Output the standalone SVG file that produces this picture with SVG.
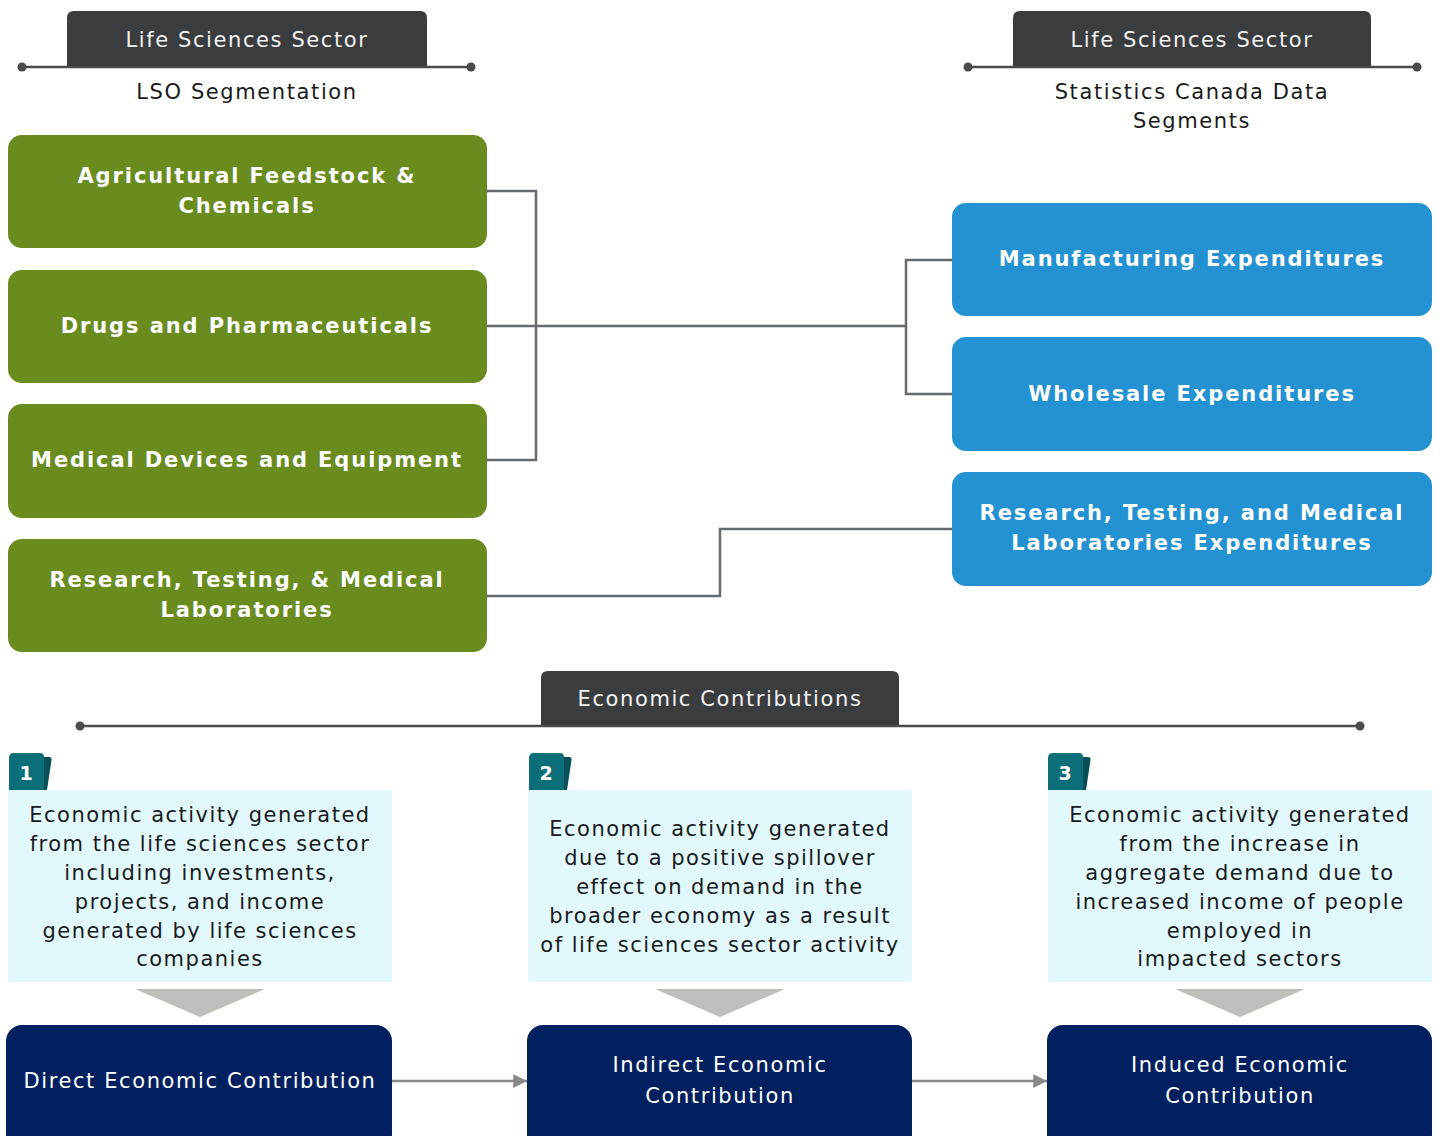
<svg xmlns="http://www.w3.org/2000/svg" width="1440" height="1136" viewBox="0 0 1440 1136">
<defs>
<style>
.t{font-family:"DejaVu Sans","Verdana",sans-serif;text-anchor:middle;font-size:21px;letter-spacing:1.6px}
.tab{fill:#3b3c3e}
.tabtxt{fill:#f2f2f2}
.sub{fill:#1a1a1a}
.hline{stroke:#4a4a4a;stroke-width:2.5;fill:none}
.dot{fill:#4a4a4a}
.green{fill:#6a8c1f}
.blue{fill:#2492d2}
.bold{fill:#fff;font-weight:bold;letter-spacing:1.9px}
.light{fill:#e1f8fd}
.desc{fill:#1a1a1a;letter-spacing:1.5px}
.navy{fill:#002060}
.navytxt{fill:#fff}
.conn{stroke:#666a6e;stroke-width:2.5;fill:none}
.arrow{stroke:#888;stroke-width:2.5;fill:none}
.chev{fill:#bfbfbb}
.badge{fill:#0b6e78}
.badgeback{fill:#074f57}
.num{fill:#fff;font-size:19px;font-weight:bold;letter-spacing:0}
</style>
<marker id="ah" viewBox="0 0 10 10" refX="10" refY="5" markerWidth="5.5" markerHeight="5.5" orient="auto" markerUnits="strokeWidth">
<path d="M0,0 L10,5 L0,10 z" fill="#888"/>
</marker>
</defs>

<g id="header-left">
<path class="tab" d="M67,67 V18 Q67,11 74,11 H420 Q427,11 427,18 V67 z"/>
<line class="hline" x1="22" y1="67" x2="471" y2="67"/>
<circle class="dot" cx="22" cy="67" r="4.5"/>
<circle class="dot" cx="471" cy="67" r="4.5"/>
<text class="t tabtxt" x="247" y="47">Life Sciences Sector</text>
<text class="t sub" x="247" y="99">LSO Segmentation</text>
</g>

<g id="header-right">
<path class="tab" d="M1013,67 V18 Q1013,11 1020,11 H1364 Q1371,11 1371,18 V67 z"/>
<line class="hline" x1="968" y1="67" x2="1417" y2="67"/>
<circle class="dot" cx="968" cy="67" r="4.5"/>
<circle class="dot" cx="1417" cy="67" r="4.5"/>
<text class="t tabtxt" x="1192" y="47">Life Sciences Sector</text>
<text class="t sub" x="1192" y="99">Statistics Canada Data</text>
<text class="t sub" x="1192" y="128">Segments</text>
</g>

<g id="connectors">
<polyline class="conn" points="487,191 536,191 536,460 487,460"/>
<line class="conn" x1="487" y1="326" x2="906" y2="326"/>
<polyline class="conn" points="952,260 906,260 906,394 952,394"/>
<polyline class="conn" points="487,596 720,596 720,529 952,529"/>
<line class="arrow" x1="392" y1="1081" x2="527" y2="1081" marker-end="url(#ah)"/>
<line class="arrow" x1="912" y1="1081" x2="1047" y2="1081" marker-end="url(#ah)"/>
</g>

<g id="node-agri">
<rect class="green" x="8" y="135" width="479" height="113" rx="14"/>
<text class="t bold" x="247" y="183">Agricultural Feedstock &amp;</text>
<text class="t bold" x="247" y="213">Chemicals</text>
</g>
<g id="node-drugs">
<rect class="green" x="8" y="270" width="479" height="113" rx="14"/>
<text class="t bold" x="247" y="333">Drugs and Pharmaceuticals</text>
</g>
<g id="node-devices">
<rect class="green" x="8" y="404" width="479" height="114" rx="14"/>
<text class="t bold" x="247" y="467">Medical Devices and Equipment</text>
</g>
<g id="node-research">
<rect class="green" x="8" y="539" width="479" height="113" rx="14"/>
<text class="t bold" x="247" y="587">Research, Testing, &amp; Medical</text>
<text class="t bold" x="247" y="617">Laboratories</text>
</g>

<g id="node-manufacturing">
<rect class="blue" x="952" y="203" width="480" height="113" rx="14"/>
<text class="t bold" x="1192" y="266">Manufacturing Expenditures</text>
</g>
<g id="node-wholesale">
<rect class="blue" x="952" y="337" width="480" height="114" rx="14"/>
<text class="t bold" x="1192" y="401">Wholesale Expenditures</text>
</g>
<g id="node-rtml">
<rect class="blue" x="952" y="472" width="480" height="114" rx="14"/>
<text class="t bold" x="1192" y="520">Research, Testing, and Medical</text>
<text class="t bold" x="1192" y="550">Laboratories Expenditures</text>
</g>

<g id="header-econ">
<path class="tab" d="M541,726 V678 Q541,671 548,671 H892 Q899,671 899,678 V726 z"/>
<line class="hline" x1="80" y1="726" x2="1360" y2="726"/>
<circle class="dot" cx="80" cy="726" r="4.5"/>
<circle class="dot" cx="1360" cy="726" r="4.5"/>
<text class="t tabtxt" x="720" y="706">Economic Contributions</text>
</g>

<g id="desc-1">
<path class="badgeback" d="M15,757 H49 Q52,757 51.5,760 L47,790 H15 z"/>
<path class="badge" d="M9,790 V758 Q9,753 14,753 H40 Q44,753 44,757 V790 z"/>
<text class="t num" x="26" y="780">1</text>
<rect class="light" x="8" y="790" width="384" height="192"/>
<text class="t desc" x="200" y="822">Economic activity generated</text>
<text class="t desc" x="200" y="851">from the life sciences sector</text>
<text class="t desc" x="200" y="880">including investments,</text>
<text class="t desc" x="200" y="909">projects, and income</text>
<text class="t desc" x="200" y="938">generated by life sciences</text>
<text class="t desc" x="200" y="966">companies</text>
<polygon class="chev" points="135,989 265,989 200,1017"/>
</g>
<g id="desc-2">
<path class="badgeback" d="M535,757 H569 Q572,757 571.5,760 L567,790 H535 z"/>
<path class="badge" d="M529,790 V758 Q529,753 534,753 H560 Q564,753 564,757 V790 z"/>
<text class="t num" x="546" y="780">2</text>
<rect class="light" x="528" y="790" width="384" height="192"/>
<text class="t desc" x="720" y="836">Economic activity generated</text>
<text class="t desc" x="720" y="865">due to a positive spillover</text>
<text class="t desc" x="720" y="894">effect on demand in the</text>
<text class="t desc" x="720" y="923">broader economy as a result</text>
<text class="t desc" x="720" y="952">of life sciences sector activity</text>
<polygon class="chev" points="655,989 785,989 720,1017"/>
</g>
<g id="desc-3">
<path class="badgeback" d="M1054,757 H1088 Q1091,757 1090.5,760 L1086,790 H1054 z"/>
<path class="badge" d="M1048,790 V758 Q1048,753 1053,753 H1079 Q1083,753 1083,757 V790 z"/>
<text class="t num" x="1065" y="780">3</text>
<rect class="light" x="1048" y="790" width="384" height="192"/>
<text class="t desc" x="1240" y="822">Economic activity generated</text>
<text class="t desc" x="1240" y="851">from the increase in</text>
<text class="t desc" x="1240" y="880">aggregate demand due to</text>
<text class="t desc" x="1240" y="909">increased income of people</text>
<text class="t desc" x="1240" y="938">employed in</text>
<text class="t desc" x="1240" y="966">impacted sectors</text>
<polygon class="chev" points="1175,989 1305,989 1240,1017"/>
</g>

<g id="node-direct">
<rect class="navy" x="6" y="1025" width="386" height="125" rx="16"/>
<text class="t navytxt" x="200" y="1088">Direct Economic Contribution</text>
</g>
<g id="node-indirect">
<rect class="navy" x="527" y="1025" width="385" height="125" rx="16"/>
<text class="t navytxt" x="720" y="1072">Indirect Economic</text>
<text class="t navytxt" x="720" y="1103">Contribution</text>
</g>
<g id="node-induced">
<rect class="navy" x="1047" y="1025" width="385" height="125" rx="16"/>
<text class="t navytxt" x="1240" y="1072">Induced Economic</text>
<text class="t navytxt" x="1240" y="1103">Contribution</text>
</g>
</svg>
